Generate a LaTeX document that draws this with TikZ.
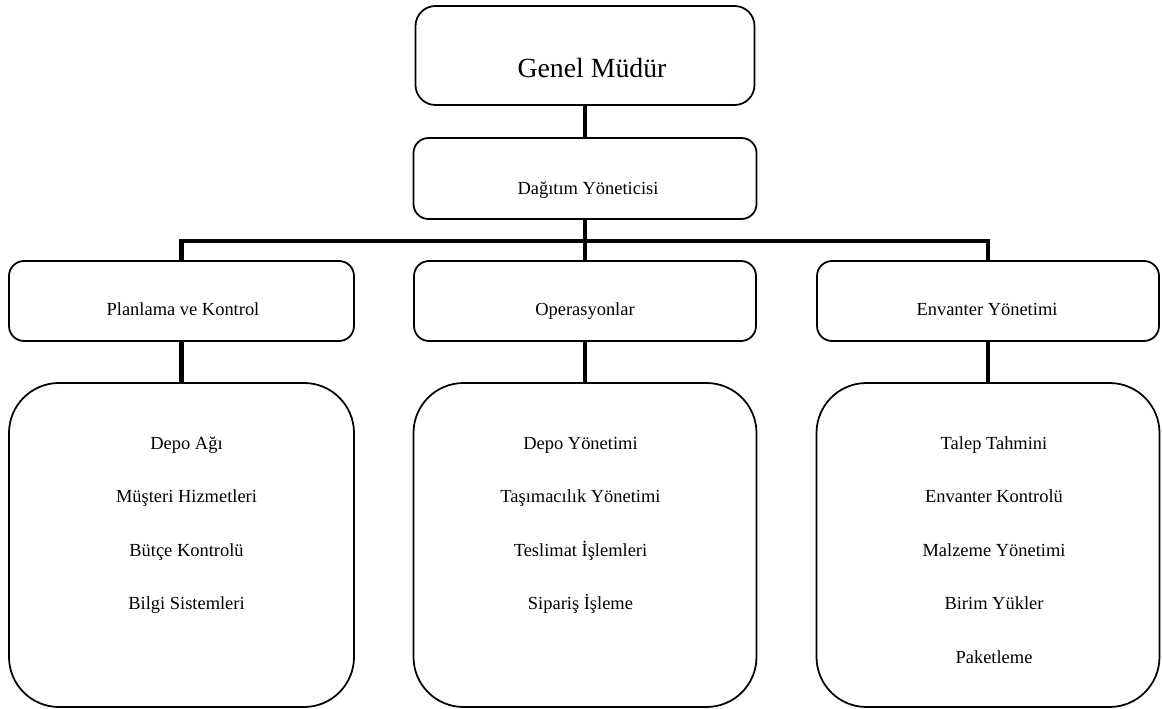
\documentclass[tikz,border=0pt]{standalone}
\usepackage{fontspec}
\setmainfont{Liberation Serif}
\begin{document}
\begin{tikzpicture}[
  box/.style={draw, line width=1pt, rounded corners=0.3cm, minimum width=6.84cm, minimum height=1.6cm, inner sep=0pt},
  listbox/.style={draw, line width=1pt, rounded corners=1cm, minimum width=6.86cm, minimum height=6.48cm, inner sep=0pt},
  link/.style={line width=2.8pt},
  txt/.style={font=\fontsize{10.5}{12.6}\selectfont, inner sep=0pt, anchor=base}]
\useasboundingbox (0,0) rectangle (23.24,-14.18);
% boxes
\node (GM) [box, rounded corners=0.4cm, minimum width=6.78cm, minimum height=1.98cm] at (11.70,-1.11) {};
\node (GM_t) [txt, font=\fontsize{15.8}{19}\selectfont] at (11.84,-1.56) {Genel Müdür};
\node (DY) [box, minimum width=6.86cm, minimum height=1.62cm] at (11.70,-3.57) {};
\node (DY_t) [txt] at (11.76,-3.90) {Dağıtım Yöneticisi};
\node (PK) [box, minimum width=6.90cm] at (3.63,-6.02) {};
\node (PK_t) [txt] at (3.66,-6.31) {Planlama ve Kontrol};
\node (OP) [box] at (11.70,-6.02) {};
\node (OP_t) [txt] at (11.70,-6.31) {Operasyonlar};
\node (EY) [box] at (19.76,-6.02) {};
\node (EY_t) [txt] at (19.74,-6.31) {Envanter Yönetimi};
\node (PK_l) [listbox, minimum width=6.90cm] at (3.63,-10.90) {};
\node (OP_l) [listbox] at (11.70,-10.90) {};
\node (EY_l) [listbox] at (19.76,-10.90) {};
% lists
\node (PK_1) [txt] at (3.73,-8.99) {Depo Ağı};
\node (PK_2) [txt] at (3.73,-10.05) {Müşteri Hizmetleri};
\node (PK_3) [txt] at (3.73,-11.12) {Bütçe Kontrolü};
\node (PK_4) [txt] at (3.73,-12.19) {Bilgi Sistemleri};
\node (OP_1) [txt] at (11.61,-8.99) {Depo Yönetimi};
\node (OP_2) [txt] at (11.61,-10.05) {Taşımacılık Yönetimi};
\node (OP_3) [txt] at (11.61,-11.12) {Teslimat İşlemleri};
\node (OP_4) [txt] at (11.61,-12.19) {Sipariş İşleme};
\node (EY_1) [txt] at (19.88,-8.99) {Talep Tahmini};
\node (EY_2) [txt] at (19.88,-10.05) {Envanter Kontrolü};
\node (EY_3) [txt] at (19.88,-11.12) {Malzeme Yönetimi};
\node (EY_4) [txt] at (19.88,-12.19) {Birim Yükler};
\node (EY_5) [txt] at (19.88,-13.26) {Paketleme};
% connectors
\coordinate (bus) at (11.70,-4.82);
\draw[link] (GM.south) -- (DY.north);
\draw[link] (DY.south) -- (bus);
\draw[link] (bus) -| (PK.north);
\draw[link] (bus) -- (OP.north);
\draw[link] (bus) -| (EY.north);
\draw[link] (PK.south) -- (PK_l.north);
\draw[link] (OP.south) -- (OP_l.north);
\draw[link] (EY.south) -- (EY_l.north);
\end{tikzpicture}
\end{document}
